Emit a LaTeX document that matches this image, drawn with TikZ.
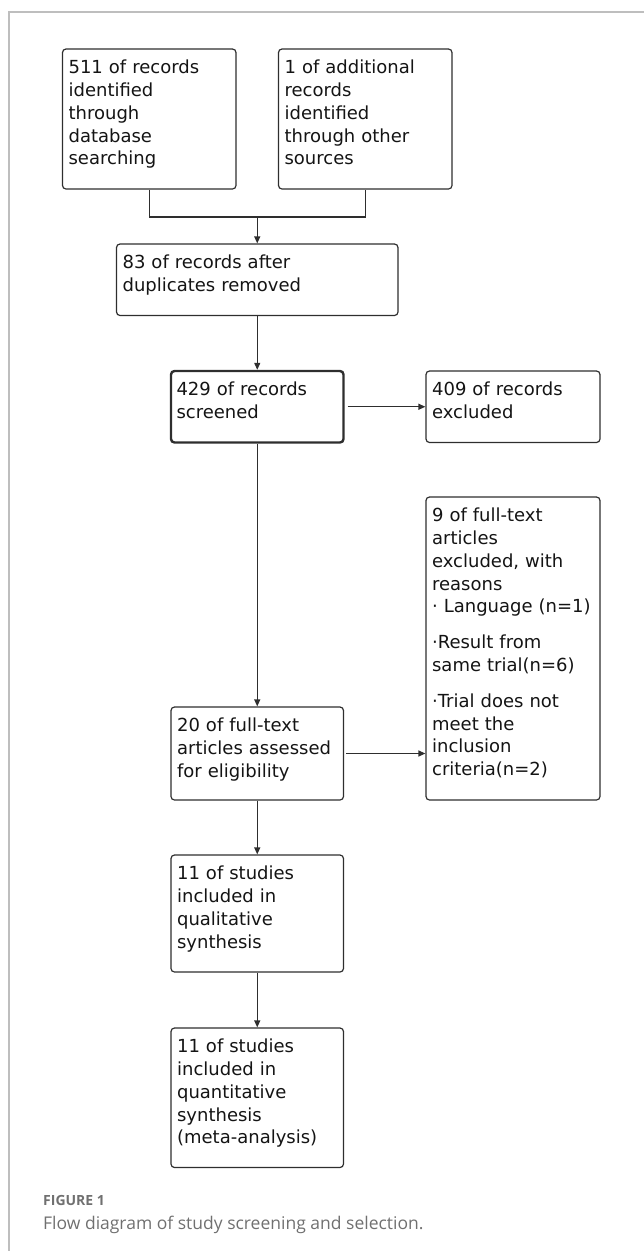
\documentclass[tikz,border=0pt]{standalone}
\usepackage{fontspec}
\setmainfont{DejaVu Sans}
\newfontfamily\capfont{Open Sans}
\usetikzlibrary{arrows.meta}
\definecolor{boxline}{HTML}{2E2E2E}
\definecolor{capgray}{HTML}{707070}
\definecolor{framegray}{HTML}{BEBEBE}

\begin{document}
\begin{tikzpicture}[x=1pt,y=-1pt,
  box/.style={draw=boxline,line width=1.2pt,rounded corners=3.5pt,inner sep=0pt},
  txt/.style={anchor=base west,inner sep=0pt,text width=168pt,align=left,
    font=\fontsize{18}{22.7}\selectfont,text=black!92},
  link/.style={boxline,line width=1.2pt},
  arr/.style={link,-{Triangle[length=7pt,width=6pt]}}]
\useasboundingbox (0,0) rectangle (644,1251);
\draw[framegray,line width=1.2pt] (644,12) -- (9,12) -- (9,1251);

% boxes
\node[box,minimum width=173.5,minimum height=140] (ident) at (149.25,119) {};
\node[box,minimum width=173.5,minimum height=140] (other) at (365.25,119) {};
\node[box,minimum width=281.5,minimum height=71.5] (dupl) at (257.25,279.75) {};
\node[box,line width=2.4pt,minimum width=172.5,minimum height=71.5] (screen) at (257.25,406.75) {};
\node[box,minimum width=174,minimum height=71.5] (excl) at (513,406.75) {};
\node[box,minimum width=174,minimum height=303] (ftexcl) at (513,648.5) {};
\node[box,minimum width=172.5,minimum height=93] (elig) at (257.25,753.5) {};
\node[box,minimum width=172.5,minimum height=117] (qual) at (257.25,913.5) {};
\node[box,minimum width=172.5,minimum height=139.5] (quant) at (257.25,1097.75) {};

% texts
\node[txt] (ident-t) at ([shift={(6.5,25.5)}]ident.north west)
  {511 of records\\identified\\through\\database\\searching};
\node[txt] (other-t) at ([shift={(6.5,25.5)}]other.north west)
  {1 of additional\\records\\identified\\through other\\sources};
\node[txt,text width=270pt] (dupl-t) at ([shift={(6.5,25.5)}]dupl.north west)
  {83 of records after\\duplicates removed};
\node[txt] (screen-t) at ([shift={(6.5,25.5)}]screen.north west)
  {429 of records\\screened};
\node[txt] (excl-t) at ([shift={(6.5,25.5)}]excl.north west)
  {409 of records\\excluded};
\node[txt] (ftexcl-t) at ([shift={(6.5,25.5)}]ftexcl.north west)
  {9 of full-text\\articles\\excluded, with\\reasons\\· Language (n=1)\\[13.3pt]
   ·Result from\\same trial(n=6)\\[13.3pt]
   ·Trial does not\\meet the\\inclusion\\criteria(n=2)};
\node[txt] (elig-t) at ([shift={(6.5,25.5)}]elig.north west)
  {20 of full-text\\articles assessed\\for eligibility};
\node[txt] (qual-t) at ([shift={(6.5,25.5)}]qual.north west)
  {11 of studies\\included in\\qualitative\\synthesis};
\node[txt] (quant-t) at ([shift={(6.5,25.5)}]quant.north west)
  {11 of studies\\included in\\quantitative\\synthesis\\(meta-analysis)};

% connectors
\coordinate (join) at (257.25,217);
\draw[link] (ident.south) |- (join) -| (other.south);
\draw[arr] (join) -- (dupl.north);
\draw[arr] (dupl.south) -- (screen.north);
\draw[arr,shorten <=3pt] (screen.east) -- (excl.west);
\draw[arr] (screen.south) -- (elig.north);
\draw[arr,shorten <=2pt] (elig.east) -- (elig.east -| ftexcl.west);
\draw[arr] (elig.south) -- (qual.north);
\draw[arr] (qual.south) -- (quant.north);

% caption
\node[anchor=base west,inner sep=0pt,text=capgray,font=\capfont\bfseries\fontsize{14}{16}\selectfont] (fig) at (43,1205) {FIGURE 1};
\node[anchor=base west,inner sep=0pt,text=capgray,font=\capfont\fontsize{17.5}{20}\selectfont] (figcap) at (43,1229) {Flow diagram of study screening and selection.};
\end{tikzpicture}
\end{document}
